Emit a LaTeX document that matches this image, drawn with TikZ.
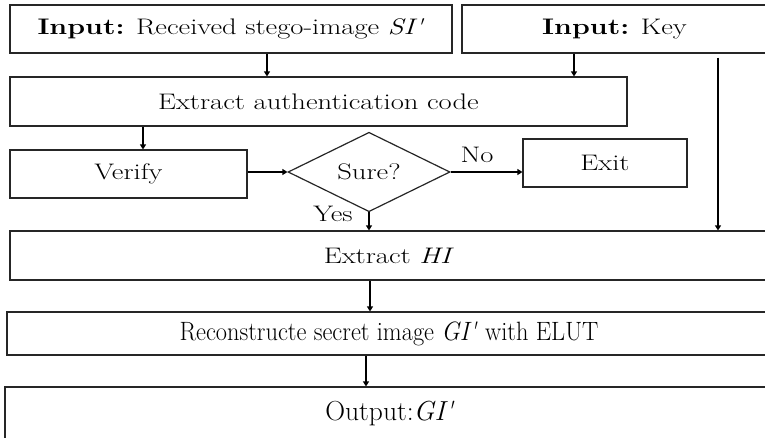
\documentclass[tikz,border=0pt]{standalone}
\usepackage{fontspec}
\setmainfont{Latin Modern Roman}
\newfontfamily\upf{Latin Modern Roman}[FakeStretch=1.27]
\newfontfamily\lowf{Latin Modern Roman}[FakeStretch=0.92]
\newfontfamily\outf{Latin Modern Roman}[FakeStretch=1.0]
\usetikzlibrary{arrows.meta,shapes.geometric}
\tikzset{
  box/.style={draw=black!85, line width=1.2pt, rectangle, inner sep=0pt},
  uptext/.style={font=\upf\fontsize{22.5}{26}\selectfont},
  lowtext/.style={font=\lowf\fontsize{26.5}{30}\selectfont},
  outtext/.style={font=\outf\fontsize{27.5}{31}\selectfont},
  arr/.style={draw=black, line width=1.2pt, -{Triangle[length=5pt,width=6pt]}},
  lbl/.style={inner sep=0pt}
}
\begin{document}
\begin{tikzpicture}[x=1pt,y=-1pt]
\useasboundingbox (0,0) rectangle (765,437);
\clip (0,0) rectangle (765,437);
\fill[white] (0,0) rectangle (765,437);
% boxes
\node[box, uptext, minimum width=442pt, minimum height=48pt] (b1) at (231,29) {\textbf{Input:} Received stego-image \textit{SI'}};
\node[box, uptext, minimum width=305pt, minimum height=48pt] (b2) at (614.5,29) {\textbf{Input:} Key};
\node[box, uptext, minimum width=617pt, minimum height=49pt] (b3) at (318.5,101.5) {Extract authentication code};
\node[box, uptext, minimum width=237pt, minimum height=48pt] (ver) at (128.5,174) {Verify};
\node[draw=black!85, line width=1.2pt, diamond, uptext, minimum width=162pt, minimum height=70pt, inner sep=0pt] (dia) at (369,172) {Sure?};
\node[box, uptext, minimum width=164pt, minimum height=48pt] (exit) at (605,163) {Exit};
\node[box, uptext, minimum width=758pt, minimum height=49pt] (hi) at (389,255.5) {Extract \textit{HI}};
\node[box, lowtext, minimum width=764pt, minimum height=43pt] (rec) at (389,333.5) {Reconstructe secret image \textit{GI'} with ELUT};
\node[box, outtext, minimum width=770pt, minimum height=53pt] (out) at (390,413.5) {Output:\textit{GI'}};
% labels
\node[lbl, uptext] (no) at (477,155) {No};
\node[lbl, uptext] (yes) at (333,214) {Yes};
% helper x positions
\coordinate (xa) at (267,0);
\coordinate (xk) at (574,0);
\coordinate (xl) at (718,0);
\coordinate (xv) at (143,0);
\coordinate (xh) at (370,0);
\coordinate (xr) at (366,0);
% connectors
\draw[arr] (b1.south -| xa) -- (b3.north -| xa);
\draw[arr] (b2.south -| xk) -- (b3.north -| xk);
\draw[arr, shorten <=4pt] (b2.south -| xl) -- (hi.north -| xl);
\draw[arr] (b3.south -| xv) -- (ver.north -| xv);
\draw[arr] (ver.east |- dia.west) -- (dia.west);
\draw[arr] (dia.east) -- (dia.east -| exit.west);
\draw[arr] (dia.south) -- (hi.north -| dia.south);
\draw[arr] (hi.south -| xh) -- (rec.north -| xh);
\draw[arr] (rec.south -| xr) -- (out.north -| xr);
\end{tikzpicture}
\end{document}
